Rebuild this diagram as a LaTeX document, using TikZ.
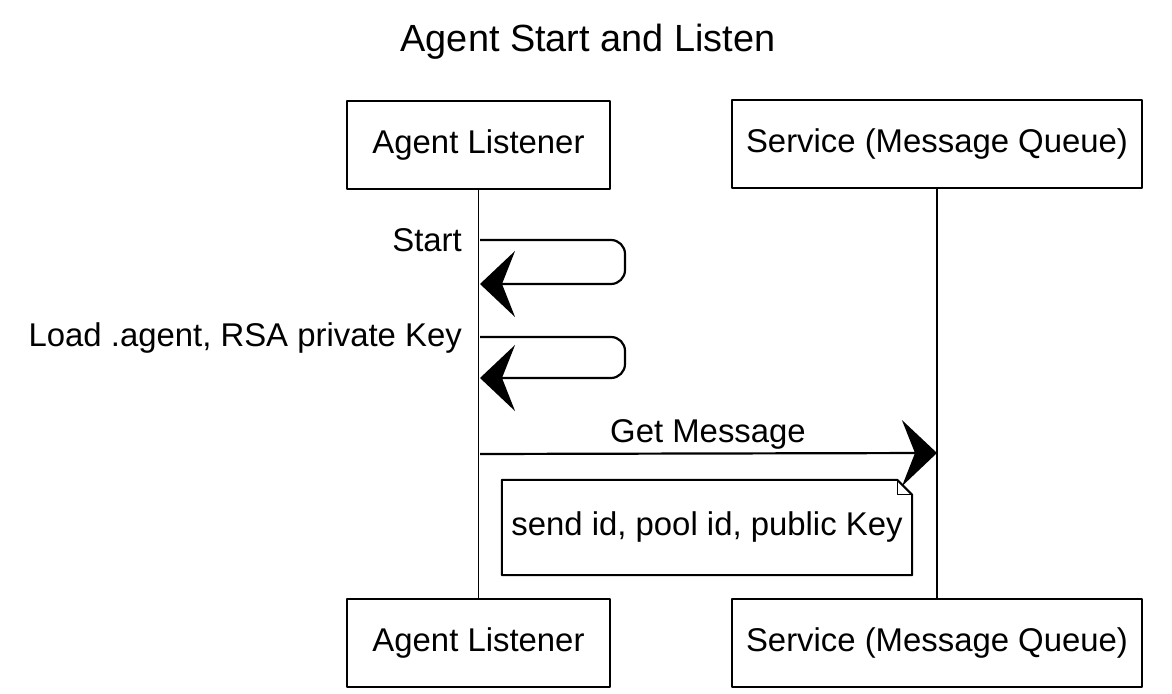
\documentclass[tikz,border=0pt]{standalone}
\usepackage{fontspec}
\setmainfont{Liberation Sans}
\usetikzlibrary{arrows.meta}
\tikzset{
  actor/.style={draw,line width=2bp,minimum height=88bp,inner sep=0pt,font=\fontsize{33}{38}\selectfont},
  lifeline/.style={line width=1.4bp},
  msg/.style={line width=2.2bp,-{Stealth[length=35bp,width=66bp,inset=13bp]}},
  label/.style={font=\fontsize{33}{38}\selectfont,inner sep=0pt},
}
\begin{document}
\begin{tikzpicture}[line join=round,]
\useasboundingbox (0bp,0bp) rectangle (1172bp,694bp);
%%
\node (title) at (588.0bp,652.0bp) [label,font=\fontsize{38}{44}\selectfont] {Agent Start and Listen};
\node (agent_top) at (478.5bp,549.0bp) [actor,minimum width=263bp] {Agent Listener};
\node (queue_top) at (937.0bp,550.0bp) [actor,minimum width=410bp] {Service (Message Queue)};
\node (agent_bot) at (478.5bp,51.0bp) [actor,minimum width=263bp] {Agent Listener};
\node (queue_bot) at (937.0bp,51.0bp) [actor,minimum width=410bp] {Service (Message Queue)};
\draw [lifeline] (agent_top) -- (agent_bot);
\draw [lifeline] (queue_top) -- (queue_bot);
%
\coordinate (start_from) at (480.0bp,454.0bp);
\coordinate (start_to) at (480.0bp,410.0bp);
\node (start_lbl) at (462.0bp,454.0bp) [label,anchor=east] {Start};
\draw [msg,rounded corners=14bp] (start_from) -- (625.0bp,454.0bp) -- (625.0bp,410.0bp) -- (start_to);
%
\coordinate (load_from) at (480.0bp,357.0bp);
\coordinate (load_to) at (480.0bp,316.0bp);
\node (load_lbl) at (462.0bp,356.0bp) [label,anchor=east] {Load .agent, RSA private Key};
\draw [msg,rounded corners=14bp] (load_from) -- (625.0bp,357.0bp) -- (625.0bp,316.0bp) -- (load_to);
%
\coordinate (get_from) at (480.0bp,240.0bp);
\coordinate (get_to) at (937.0bp,241.0bp);
\node (get_lbl) at (708.0bp,260.0bp) [label] {Get Message};
\draw [msg] (get_from) -- (get_to);
%
\node (note) at (707.0bp,166.5bp) [label,minimum width=410bp,minimum height=95bp] {send id, pool id, public Key};
\draw [line width=2bp] (note.south west) -- (note.south east) -- ([yshift=-15bp]note.north east)
  -- ([xshift=-15bp]note.north east) -- (note.north west) -- cycle;
\draw [line width=1bp] ([xshift=-15bp]note.north east) -- ([xshift=-15bp,yshift=-15bp]note.north east) -- ([yshift=-15bp]note.north east);
%
\end{tikzpicture}
\end{document}
